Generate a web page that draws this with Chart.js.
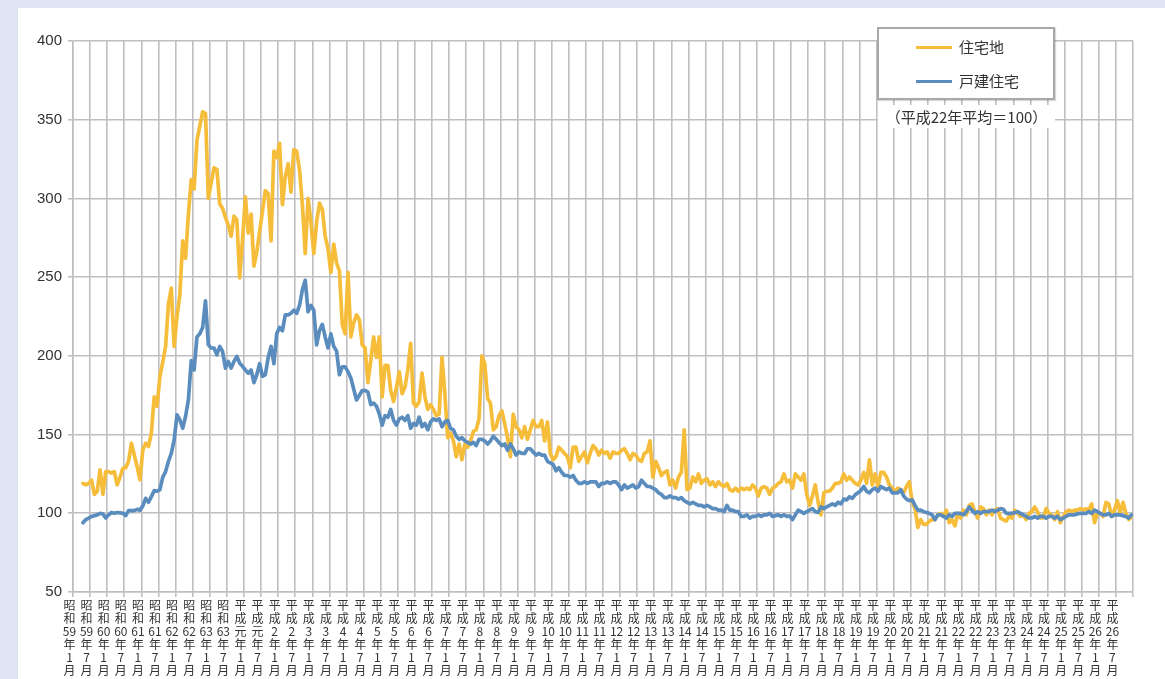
<!DOCTYPE html>
<html><head><meta charset="utf-8">
<script src="https://cdn.jsdelivr.net/npm/chart.js@4.4.1/dist/chart.umd.min.js"></script>
<style>
html,body{margin:0;padding:0;}
body{width:1165px;height:679px;background:#dfe4f3;position:relative;overflow:hidden;font-family:"Noto Sans CJK JP","Liberation Sans",sans-serif;color:#333;}
#panel{position:absolute;left:18px;top:8px;right:0;bottom:0;background:#fff;}
#c{position:absolute;left:0;top:0;}
#legend{position:absolute;left:877px;top:27px;width:174px;height:69px;border:2px solid #a8a8a8;background:#fff;box-shadow:1px 1px 1px rgba(0,0,0,0.15);}
.item{position:absolute;left:0;height:20px;font-size:15px;line-height:20px;}
.item .sw{position:absolute;left:37px;top:9px;width:36px;height:3px;}
.item .tx{position:absolute;left:80px;top:0;white-space:nowrap;}
#note{position:absolute;left:878px;top:105px;width:177px;height:23px;background:#fff;font-size:15px;line-height:23px;text-align:center;white-space:nowrap;}
</style></head>
<body>
<div id="panel"></div>
<canvas id="c" width="1165" height="679"></canvas>
<div id="legend">
  <div class="item" style="top:8px"><span class="sw" style="background:#f6bd3b"></span><span class="tx">住宅地</span></div>
  <div class="item" style="top:42px"><span class="sw" style="background:#5a8dbe"></span><span class="tx">戸建住宅</span></div>
</div>
<div id="note">（平成22年平均＝100）</div>
<script>
// Tick labels, every 6 months from 昭和59年1月
const tickLabels = [
 "昭和59年1月","昭和59年7月","昭和60年1月","昭和60年7月","昭和61年1月","昭和61年7月",
 "昭和62年1月","昭和62年7月","昭和63年1月","昭和63年7月","平成元年1月","平成元年7月",
 "平成2年1月","平成2年7月","平成3年1月","平成3年7月","平成4年1月","平成4年7月",
 "平成5年1月","平成5年7月","平成6年1月","平成6年7月","平成7年1月","平成7年7月",
 "平成8年1月","平成8年7月","平成9年1月","平成9年7月","平成10年1月","平成10年7月",
 "平成11年1月","平成11年7月","平成12年1月","平成12年7月","平成13年1月","平成13年7月",
 "平成14年1月","平成14年7月","平成15年1月","平成15年7月","平成16年1月","平成16年7月",
 "平成17年1月","平成17年7月","平成18年1月","平成18年7月","平成19年1月","平成19年7月",
 "平成20年1月","平成20年7月","平成21年1月","平成21年7月","平成22年1月","平成22年7月",
 "平成23年1月","平成23年7月","平成24年1月","平成24年7月","平成25年1月","平成25年7月",
 "平成26年1月","平成26年7月"
];
// Monthly series start at 昭和59年4月 (month index 3 from 昭和59年1月)
const firstMonth = 3;
// 住宅地
const landValues = [
 119,118,119,121,112,114,127.6,112,126.5,
 126.5,125.5,126.5,118,123,128.6,129,133,144.5,137,129.7,121.2,
 140.3,144.5,142.4,151,174,168,187,196,206,233,243,206,
 225,239,273,262,290,312,306,337,346,355,354,300,
 310,319.5,318.4,296.6,293.5,288,283,276,288.7,286.5,249.5,274,
 301,278,290,257,266,279,292,305,303,273,330,326,
 335,296,314,322,304,331,330,318,296,265,300,285,
 265,285,297,293,276,268,253,271,259,254,220,214,
 253,212,221,226,223,207,205,183,197,212,199,212,
 174,194,194,178,171,180,190,176,180,191,208,170,
 168,171,189,174,166,169,166,162,163,199,176,148,
 151,146,136,144,134,144,142,146,152,153,160,200,
 195,173,170,153,155,162,165,157,148,136,163,155,
 153,148,155,147,153,159,155,155,159,146,158,138,
 134,136,142,140,138,136,129,142,142,133,136,139,
 132,138,143,141,137,140,138,139,135,139,138,138,
 140,141,138,134,138,137,134,133,138,139,146,123,
 133,129,124,126,127,118,121,116,123,126,153,115,
 116,123,120,125,119,121,122,118,120,117,120,118,
 117,119,115,114,116,114,116,115,116,115,118,116,
 111,116,117,116,112,116,117,119,120,125,120,121,
 116,125,123,121,125,112,105,111,118,107,99,113,
 114,114,116,119,119,120,125,121,123,121,119,118,
 121,126,119,134,118,125,117,126,126,123,118,116,
 114,116,115,113,117,120,107,103,91,96,93,93,
 95,96,96,99,100,98,102,94,96,92,100,97,
 102,99,105,106,101,97,104,103,99,102,99,102,
 103,97,96,95,98,97,102,100,98,99,96,100,
 101,104,101,97,97,103,100,99,96,101,94,98,
 101,102,101,102,102,103,102,103,102,106,94,100,
 100,98,107,106,98,102,108,100,107,100,96,98
];
// 戸建住宅
const houseValues = [
 94,96,97,98,98.5,99,100,99.5,97,
 99,100.5,100,100.5,100.3,100,98.5,101.7,101.7,101.7,102.5,102,
 104.7,109.5,107,110.6,114.4,114,115,123,126.5,133,138,146.6,
 162.5,159.4,154,161.5,172,197,191,212,214,218,235,207,
 205,205,200.7,206,202.8,192.2,196.5,192.2,196.5,199.7,195.4,193.3,
 191,189,191,183,188,195,187,188,199,206,195,214,
 218,216,226,226,227,229,227,232,242,248,228,232,
 229,207,216,220,212,205,214,206,203,188,193,193,
 190,186,179,172,175,178,178,177,169,170,168,163,
 156,162,161,166,159,156,160,161,159,162,154,157,
 156,161,155,157,153,158,160,159,160,155,158,159,
 154,153,149,147,148,146,145,144,145,143,147,147,
 146,144,146,149,147,145,143,144,140,144,141,137,
 139,138,138,141,141,139,137,138,137,137,133,132,
 131,127,129,126,124,124,123,124,121,119,119,120,
 119,120,120,120,117,119,119,120,119,120,120,118,
 115,118,116,117,118,116,117,121,119,117,117,116,
 115,113,112,110,110,111,110,110,109,110,108,107,
 106,107,106,105,105,104,105,104,103,103,102,102,
 101,105,102,102,101,101,98,98,99,97,98,98,
 99,98,99,99,100,98,98.5,99,98,99,98,98.3,
 96,99,102,101,100,101,102,103,101,100.5,104,103,
 104,105,106,105,107,106,109,108.5,110.5,109.5,111.7,113,
 114.5,117,114,113,115,116,114,117,116,115,116,113,
 113,113,115,111,109,108,108.5,105,102,102,101,100.5,
 100,99,96,99,99,98,97,99,98,100,100,100,
 99,101,104,102,100,101,100,101,101,101,102,101,
 102,103,102.5,100,100,100,100.4,101,100,99,98,97,
 97,98,97,98,98,97,98,98,97,98,96,97,
 98,99,99,99,99.6,100,100,100,101,100,102,101,
 100,99,99,100,98,99,99,99,98.5,98,97,99
];
const yTicks = {min:50, max:400, step:50};
const monthsPerTick = 6;
const totalMonths = tickLabels.length * monthsPerTick;

function toPts(vals){ return vals.map((v,j)=>({x:firstMonth + j + 0.5, y:v})); }
function splitLabel(s){
  const m = s.match(/^(.)(.)(\d+|元)年(\d+)月$/);
  return m ? [m[1], m[2], m[3], '年', m[4], '月'] : s;
}
const gridColor = '#bfbfc3';
new Chart(document.getElementById('c').getContext('2d'), {
  type:'line',
  data:{datasets:[
    {label:'戸建住宅', data:toPts(houseValues), borderColor:'#5a8dbe', borderWidth:3.7, pointRadius:0, tension:0, order:1, borderJoinStyle:'round', borderCapStyle:'round'},
    {label:'住宅地', data:toPts(landValues), borderColor:'#f6bd3b', borderWidth:3.7, pointRadius:0, tension:0, order:2, borderJoinStyle:'round', borderCapStyle:'round'}
  ]},
  options:{
    responsive:false, animation:false, devicePixelRatio:1,
    layout:{padding:{left:0, top:41, right:32, bottom:0}},
    plugins:{legend:{display:false}, tooltip:{enabled:false}},
    scales:{
      x:{type:'linear', min:0, max:totalMonths,
         afterBuildTicks:(axis)=>{ const t=[]; for(let k=0;k<=tickLabels.length;k++) t.push({value:k*monthsPerTick}); axis.ticks=t; },
         afterFit:(axis)=>{ axis.height = 87; },
         ticks:{autoSkip:false, maxRotation:0, minRotation:0, padding:2, labelOffset:-3.5, color:'#333',
           font:{family:'"Noto Sans CJK JP", sans-serif', size:12, lineHeight:1.08},
           callback:(v)=>{ const k=Math.round(v/monthsPerTick); return k<tickLabels.length ? splitLabel(tickLabels[k]) : ''; }},
         grid:{color:gridColor, lineWidth:1.6, tickLength:5, drawTicks:true},
         border:{color:gridColor, width:1.6}
      },
      y:{min:yTicks.min, max:yTicks.max,
         afterFit:(axis)=>{ axis.width = 73; },
         ticks:{stepSize:yTicks.step, color:'#333', padding:6, font:{family:'"Liberation Sans", Arial, sans-serif', size:15}},
         grid:{color:gridColor, lineWidth:1.6, tickLength:5},
         border:{color:gridColor, width:1.6}
      }
    }
  }
});
</script>
</body></html>
